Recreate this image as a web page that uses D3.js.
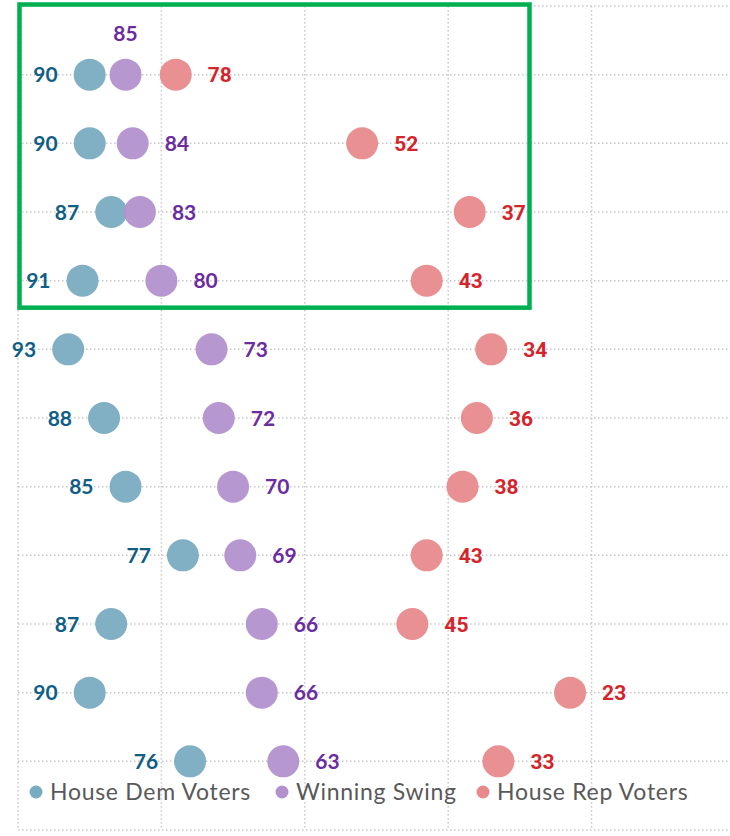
<!DOCTYPE html>
<html>
<head>
<meta charset="utf-8">
<script src="https://cdn.jsdelivr.net/npm/d3@7"></script>
<style>
  html, body { margin: 0; padding: 0; background: #fff; }
  #app { width: 730px; height: 836px; }
</style>
</head>
<body>
<div id="app"></div>
<script>
// values, one entry per row (top to bottom)
const demVoters   = [90, 90, 87, 91, 93, 88, 85, 77, 87, 90, 76];
const winSwing    = [85, 84, 83, 80, 73, 72, 70, 69, 66, 66, 63];
const repVoters   = [78, 52, 37, 43, 34, 36, 38, 43, 45, 23, 33];
const seriesNames = ['House Dem Voters', 'Winning Swing', 'House Rep Voters'];
const xTicks      = [100, 80, 60, 40, 20, 0];
const highlightRows = [0, 3]; // rows inside the green box

const width = 730, height = 836;
const frame = { left: 18, right: 735, top: 6, bottom: 830 };

const series = [
  { name: seriesNames[0], values: demVoters, fill: '#7aacc1', text: '#0f5e86', font: 'Lato', side: -1 },
  { name: seriesNames[1], values: winSwing,  fill: '#b391cd', text: '#6b2c9f', font: 'Lato', side: 1 },
  { name: seriesNames[2], values: repVoters, fill: '#e88a8c', text: '#d5252c', font: 'Roboto', side: 1 }
];

const svg = d3.select('#app').append('svg')
  .attr('width', width)
  .attr('height', height);

const x = d3.scaleLinear().domain([100, 0]).range([frame.left, frame.right]);
// one extra step above and below the rows for the frame lines
const rowIdx = d3.range(-1, demVoters.length + 1);
const y = d3.scalePoint().domain(rowIdx).range([frame.top, frame.bottom]);

// dotted grid
const grid = svg.append('g').attr('class', 'grid')
  .attr('stroke', '#c8c8c8')
  .attr('stroke-width', 1.5)
  .attr('stroke-dasharray', '1.5,2.5');

grid.selectAll('line.v')
  .data(xTicks)
  .enter().append('line')
    .attr('class', 'v')
    .attr('x1', d => x(d)).attr('x2', d => x(d))
    .attr('y1', frame.top).attr('y2', frame.bottom);

grid.selectAll('line.h')
  .data(rowIdx)
  .enter().append('line')
    .attr('class', 'h')
    .attr('x1', frame.left).attr('x2', frame.right)
    .attr('y1', d => y(d)).attr('y2', d => y(d));

// dots
series.forEach(s => {
  svg.append('g').selectAll('circle')
    .data(s.values)
    .enter().append('circle')
      .attr('cx', d => x(d))
      .attr('cy', (d, i) => y(i))
      .attr('r', 16)
      .attr('fill', s.fill)
      .attr('fill-opacity', 0.95);
});

// labels
series.forEach((s, si) => {
  // first swing label sits above its dot (would collide otherwise)
  const above = (i) => si === 1 && i === 0;
  svg.append('g').selectAll('text')
    .data(s.values)
    .enter().append('text')
      .attr('x', (d, i) => above(i) ? x(d) : x(d) + s.side * 32)
      .attr('y', (d, i) => above(i) ? y(i) - 41 : y(i))
      .attr('dy', '0.36em')
      .attr('text-anchor', (d, i) => above(i) ? 'middle' : (s.side < 0 ? 'end' : 'start'))
      .attr('font-family', s.font)
      .attr('font-weight', 'bold')
      .attr('font-size', 21)
      .attr('fill', s.text)
      .text(d => d);
});

// green highlight box
svg.append('rect')
  .attr('x', 19.5)
  .attr('y', 4.5)
  .attr('width', 510)
  .attr('height', y(highlightRows[1]) + 27 - 4.5)
  .attr('fill', 'none')
  .attr('stroke', '#00b050')
  .attr('stroke-width', 4.5);

// legend
const legendX = [36, 282, 483];
const legend = svg.append('g').attr('class', 'legend');
series.forEach((s, i) => {
  legend.append('circle')
    .attr('cx', legendX[i])
    .attr('cy', 792)
    .attr('r', 6.5)
    .attr('fill', s.fill);
  legend.append('text')
    .attr('x', legendX[i] + 14)
    .attr('y', 792)
    .attr('dy', '0.36em')
    .attr('font-family', 'Lato')
    .attr('font-size', 23)
    .attr('letter-spacing', 0.7)
    .attr('fill', '#595959')
    .text(s.name);
});
</script>
</body>
</html>
